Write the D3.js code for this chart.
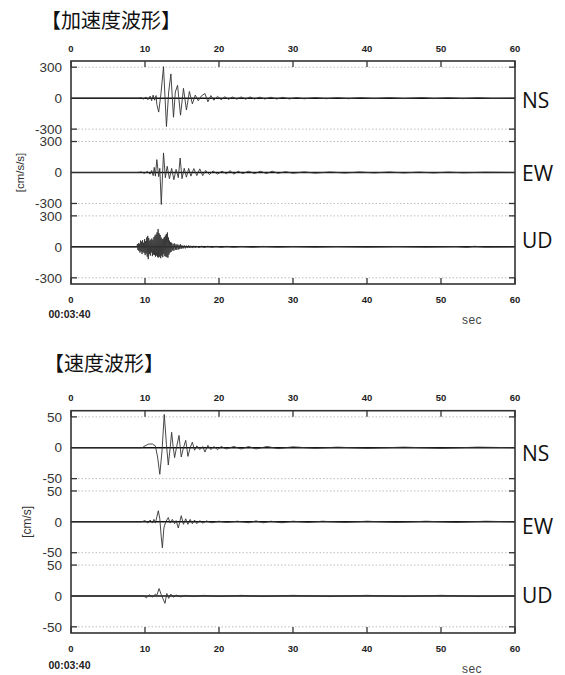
<!DOCTYPE html>
<html><head><meta charset="utf-8">
<script src="https://cdn.jsdelivr.net/npm/d3@7"></script>
<style>
html,body{margin:0;padding:0;background:#fff;}
svg{display:block;}
</style>
</head><body>
<svg id="chart" width="565" height="675"></svg>
<script>
// ---------------- DATA ----------------
const channels = ["NS", "EW", "UD"];
const timeTicks = [0, 10, 20, 30, 40, 50, 60];
const startTime = "00:03:40";
const accTicks = [300, 0, -300];
const velTicks = [50, 0, -50];
const accTitle = "【加速度波形】";
const velTitle = "【速度波形】";
const accUnit = "[cm/s/s]";
const velUnit = "[cm/s]";

// acceleration NS [sec, cm/s/s]
const accNS = [[0,0],[9.2,0],[9.5,6],[9.8,-10],[10.1,12],[10.4,-15],[10.7,20],[10.9,-25],[11.1,30],[11.3,-20],[11.5,25],[11.6,-60],[11.85,-135],[12.15,40],[12.5,305],[12.9,-275],[13.2,60],[13.5,235],[13.85,-185],[14.1,60],[14.4,125],[14.8,-165],[15.2,95],[15.6,-115],[16.0,65],[16.4,-55],[16.8,30],[17.2,-25],[17.6,20],[18.1,45],[18.5,-35],[18.9,25],[19.3,-20],[19.8,18],[20.3,-15],[20.8,14],[21.3,-12],[21.8,12],[22.4,-10],[23.0,12],[23.6,-10],[24.2,12],[24.8,-8],[25.5,10],[26.2,-8],[27.0,9],[27.8,-8],[28.6,8],[29.5,-7],[30.5,6],[31.5,-6],[33,6],[34.5,-5],[36,5],[37.5,-5],[39,5],[41,-4],[43,5],[45,-4],[47.5,6],[49,-4],[51,4],[53,-4],[55,4],[57,-3],[60,0]];
// acceleration EW
const accEW = [[0,0],[9.0,0],[9.5,5],[9.9,-8],[10.3,10],[10.7,-15],[10.9,20],[11.1,-30],[11.25,50],[11.4,-35],[11.6,125],[11.85,-40],[12.0,40],[12.2,-310],[12.5,190],[12.75,-50],[13.0,60],[13.3,-60],[13.6,40],[13.9,-70],[14.2,30],[14.5,-50],[14.75,140],[15.0,-60],[15.3,40],[15.6,-45],[15.9,40],[16.2,-35],[16.6,38],[17.0,-30],[17.4,35],[17.8,-30],[18.2,20],[18.7,-20],[19.2,15],[19.8,-15],[20.4,12],[21.0,-12],[21.5,18],[22.0,-15],[22.6,12],[23.2,-10],[24.0,12],[24.8,-10],[25.6,12],[26.4,-10],[27.2,12],[28.0,-8],[29.0,8],[30.0,-7],[31.5,6],[33,-6],[35,5],[37,-5],[39,5],[41,-4],[43,5],[45,-4],[47,4],[49,-4],[51,4],[53,-3],[56,3],[60,0]];
// acceleration UD
const accUD = [[0,0],[8.9,0],[8.97,25],[9.04,-30],[9.11,35],[9.18,-40],[9.25,30],[9.32,-55],[9.39,60],[9.46,-45],[9.53,50],[9.6,-70],[9.67,65],[9.74,-50],[9.81,40],[9.88,-60],[9.95,75],[10.02,-80],[10.09,55],[10.16,-65],[10.23,90],[10.3,-95],[10.37,106],[10.44,-119],[10.51,85],[10.58,-70],[10.65,60],[10.72,-85],[10.79,70],[10.86,-55],[10.93,80],[11.0,-90],[11.07,65],[11.14,-75],[11.21,95],[11.28,-80],[11.35,110],[11.42,-95],[11.49,120],[11.56,-85],[11.63,140],[11.7,-100],[11.77,171],[11.84,-103],[11.91,130],[11.98,-95],[12.05,115],[12.12,-110],[12.19,90],[12.26,-85],[12.33,75],[12.4,-100],[12.47,80],[12.54,-70],[12.61,95],[12.68,-90],[12.75,110],[12.82,-95],[12.89,125],[12.96,-100],[13.03,139],[13.1,-105],[13.17,90],[13.24,-75],[13.31,60],[13.38,-55],[13.45,45],[13.52,-50],[13.6,40],[13.7,-35],[13.8,30],[13.9,-38],[14.0,32],[14.1,-28],[14.2,25],[14.3,-30],[14.4,22],[14.5,-25],[14.6,20],[14.7,-22],[14.8,24],[14.9,-18],[15.0,15],[15.15,-16],[15.3,14],[15.45,-15],[15.6,12],[15.75,-12],[15.9,14],[16.05,-10],[16.2,10],[16.4,-12],[16.6,10],[16.8,-9],[17.0,8],[17.3,-8],[17.6,7],[18.0,-6],[18.5,6],[19.0,-5],[19.6,5],[20.3,-5],[21,5],[22,-4],[23,4],[24.5,-4],[26,4],[28,-3],[30,3],[33,-3],[36,3],[40,-3],[44,3],[48,-3],[52,3],[53.5,-5],[54.5,5],[56,-3],[60,0]];

// velocity NS [sec, cm/s]
const velNS = [[0,0],[9.6,0],[10.0,3],[10.5,6],[11.0,6],[11.4,3],[11.7,-15],[12.0,-43],[12.3,-5],[12.6,54],[12.9,5],[13.15,-28],[13.4,0],[13.6,25],[13.8,2],[14.0,-16],[14.3,3],[14.6,20],[14.75,2],[14.9,-15],[15.2,0],[15.5,12],[15.65,0],[15.8,-14],[16.1,0],[16.4,9],[16.7,-4],[17.0,3],[17.4,-3],[17.8,2],[18.1,-7],[18.5,4],[18.9,-3],[19.3,2],[19.8,-3],[20.3,2],[21,-2],[22,2],[23,-2],[24,2],[25,-2],[26.5,2],[28,-1.5],[30,1.5],[33,-1],[36,1],[40,-1],[45,1],[50,-1],[55,1],[60,0]];
// velocity EW
const velEW = [[0,0],[9.5,0],[10.0,2],[10.4,-2],[10.7,3],[11.0,-2],[11.2,4],[11.4,-2],[11.6,8],[11.8,18],[12.0,5],[12.2,-25],[12.35,-42],[12.55,-10],[12.8,0],[13.15,7],[13.4,-2],[13.7,4],[14.0,-3],[14.2,2],[14.5,-10],[14.9,10],[15.2,-4],[15.5,5],[15.8,-4],[16.1,4],[16.4,-3],[16.7,3],[17.0,-3],[17.4,2],[17.8,-2],[18.3,1.5],[19,-1.5],[20,1],[21,-1],[22.5,1],[24,-1.5],[25,1.5],[26,-1.5],[27,1],[28.5,-1.5],[30,1],[32,-1],[34,1],[37,-1],[40,1],[44,-1],[48,1],[52,-1],[56,1],[60,0]];
// velocity UD
const velUD = [[0,0],[9.8,0],[10.2,-3],[10.6,2],[11.0,-2],[11.4,3],[11.6,1],[11.9,12],[12.2,2],[12.45,-5],[12.7,-12],[12.95,4],[13.2,-4],[13.5,3],[13.8,-2],[14.2,1.5],[14.8,-1.5],[15.5,1],[16.5,-1],[18,1],[20,-1],[23,1],[26,-1],[30,1],[35,-1],[40,1],[45,-1],[50,1],[55,-1],[60,0]];

// ---------------- DRAWING ----------------
const svg = d3.select("#chart");
const xLeft = 71, xRight = 515;
const x = d3.scaleLinear().domain([0, 60]).range([xLeft, xRight]);
const tickFont = "'Liberation Sans', Arial, sans-serif";

function drawPanel(cfg) {
  const g = svg.append("g");
  const top = cfg.top, bottom = cfg.bottom;
  const band = d3.scaleBand().domain(channels).range([top, bottom]).padding(0);

  g.append("text").attr("x", cfg.titleX).attr("y", cfg.titleY)
    .attr("font-family", "'Noto Sans CJK JP', sans-serif").attr("font-size", 20)
    .attr("fill", "#111").text(cfg.title);

  channels.forEach((ch, i) => {
    const y = d3.scaleLinear().domain([-cfg.max, cfg.max])
      .range([band(ch) + band.bandwidth(), band(ch)]);
    cfg.ticks.filter(v => v !== 0).forEach(v => {
      g.append("line").attr("x1", xLeft).attr("x2", xRight)
        .attr("y1", y(v)).attr("y2", y(v))
        .attr("stroke", "#bdbdbd").attr("stroke-width", 1)
        .attr("stroke-dasharray", "1.5,2");
      g.append("line").attr("x1", xLeft).attr("x2", xLeft + 6).attr("y1", y(v)).attr("y2", y(v))
        .attr("stroke", "#333").attr("stroke-width", 1.3);
      g.append("line").attr("x1", xRight - 6).attr("x2", xRight).attr("y1", y(v)).attr("y2", y(v))
        .attr("stroke", "#333").attr("stroke-width", 1.3);
    });
    g.append("line").attr("x1", xLeft).attr("x2", xRight)
      .attr("y1", y(0)).attr("y2", y(0))
      .attr("stroke", "#111").attr("stroke-width", 1.5);
    cfg.ticks.forEach(v => {
      g.append("text").attr("x", 62).attr("y", y(v) + 4.7)
        .attr("text-anchor", "end").attr("font-family", tickFont)
        .attr("font-size", 13.5).attr("fill", "#333").text(v);
    });
    const line = d3.line().x(d => x(d[0])).y(d => y(d[1]));
    g.append("path").datum(cfg.traces[i]).attr("d", line)
      .attr("fill", "none").attr("stroke", "#333").attr("stroke-width", 0.9)
      .attr("stroke-linejoin", "round");
    g.append("text").attr("x", 522).attr("y", y(0) + cfg.labelDy[i])
      .attr("font-family", "'Open Sans', 'Noto Sans', sans-serif").attr("font-size", 21)
      .attr("fill", "#111").text(ch);
  });

  timeTicks.forEach(t => {
    g.append("line").attr("x1", x(t)).attr("x2", x(t)).attr("y1", top).attr("y2", top + 6)
      .attr("stroke", "#333").attr("stroke-width", 1.3);
    g.append("line").attr("x1", x(t)).attr("x2", x(t)).attr("y1", bottom - 6).attr("y2", bottom)
      .attr("stroke", "#333").attr("stroke-width", 1.3);
    g.append("text").attr("x", x(t)).attr("y", top - 9.5).attr("text-anchor", "middle")
      .attr("font-family", tickFont).attr("font-weight", "bold").attr("font-size", 9.5)
      .attr("fill", "#222").text(t);
    g.append("text").attr("x", x(t)).attr("y", bottom + 18.5).attr("text-anchor", "middle")
      .attr("font-family", tickFont).attr("font-weight", "bold").attr("font-size", 9.5)
      .attr("fill", "#222").text(t);
  });

  g.append("rect").attr("x", xLeft).attr("y", top).attr("width", xRight - xLeft)
    .attr("height", bottom - top).attr("fill", "none").attr("stroke", "#333").attr("stroke-width", 1.6);

  g.append("text").attr("x", 69.5).attr("y", bottom + cfg.timeDy).attr("text-anchor", "middle")
    .attr("font-family", tickFont).attr("font-weight", "bold").attr("font-size", 10.5)
    .attr("fill", "#222").text(startTime);
  g.append("text").attr("x", 472).attr("y", bottom + cfg.secDy).attr("text-anchor", "middle")
    .attr("font-family", tickFont).attr("font-size", 12).attr("letter-spacing", 0.5)
    .attr("fill", "#444").text("sec");

  g.append("text")
    .attr("transform", `translate(${cfg.unitX},${(top + bottom) / 2}) rotate(-90)`)
    .attr("text-anchor", "middle").attr("dominant-baseline", "middle")
    .attr("font-family", tickFont).attr("font-size", cfg.unitSize).attr("fill", "#333")
    .text(cfg.unit);
}

drawPanel({title: accTitle, titleX: 41, titleY: 28, top: 61, bottom: 284, max: 360,
  ticks: accTicks, traces: [accNS, accEW, accUD], unit: accUnit, unitX: 21, unitSize: 11.5,
  timeDy: 34, secDy: 40, labelDy: [10, 8, 1]});
drawPanel({title: velTitle, titleX: 44, titleY: 371, top: 410.7, bottom: 633, max: 60,
  ticks: velTicks, traces: [velNS, velEW, velUD], unit: velUnit, unitX: 28, unitSize: 12,
  timeDy: 36, secDy: 39.5, labelDy: [13, 12, 7]});
</script>
</body></html>
